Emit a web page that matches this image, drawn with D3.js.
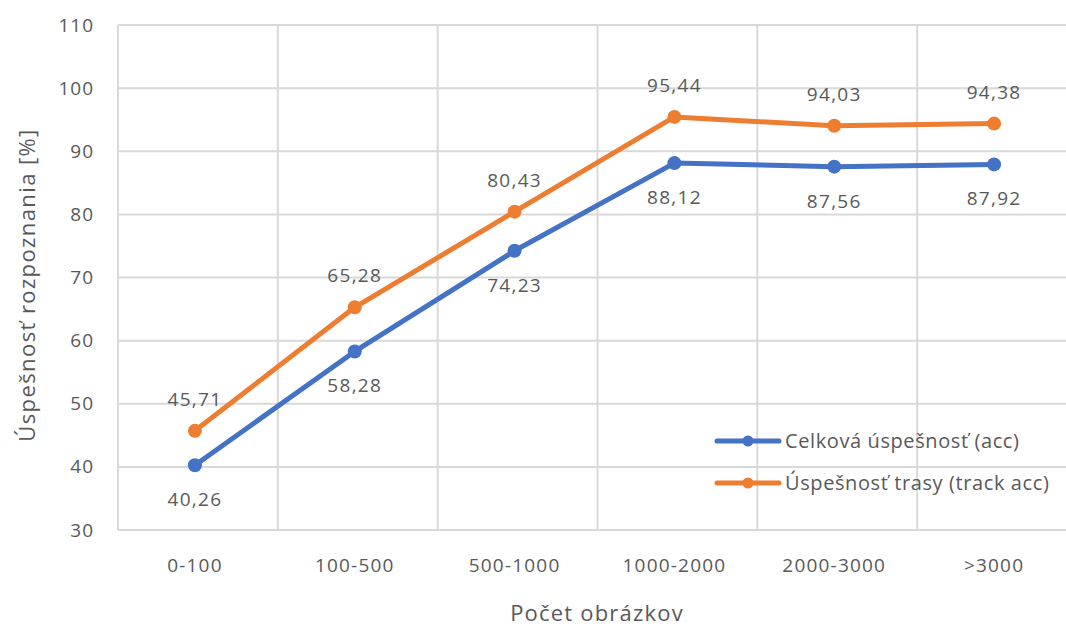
<!DOCTYPE html>
<html>
<head>
<meta charset="utf-8">
<script src="https://cdn.jsdelivr.net/npm/d3@7"></script>
<style>
  html, body { margin: 0; padding: 0; background: #fff; }
  svg { display: block; }
  text { font-family: "Open Sans", "Noto Sans", sans-serif; fill: #595959; }
</style>
</head>
<body>
<svg id="chart" width="1066" height="630"></svg>
<script>
// Categories (number of images) and recognition success rates in %
const categories = ["0-100", "100-500", "500-1000", "1000-2000", "2000-3000", ">3000"];
const accValues = [40.26, 58.28, 74.23, 88.12, 87.56, 87.92];
const trackAccValues = [45.71, 65.28, 80.43, 95.44, 94.03, 94.38];
const yTicks = [30, 40, 50, 60, 70, 80, 90, 100, 110];
const seriesNames = ["Celková úspešnosť (acc)", "Úspešnosť trasy (track acc)"];

const svg = d3.select("#chart");

// Plot area continues past the right edge of the canvas
const plotLeft = 118, plotRight = 1077, plotTop = 25, plotBottom = 530;

const x = d3.scaleBand().domain(categories).range([plotLeft, plotRight]).padding(0);
const y = d3.scaleLinear().domain([30, 110]).range([plotBottom, plotTop]);

const grid = svg.append("g");
// horizontal gridlines
grid.selectAll("line.h").data(yTicks).enter().append("line")
  .attr("class", "h")
  .attr("x1", plotLeft).attr("x2", plotRight)
  .attr("y1", d => y(d)).attr("y2", d => y(d))
  .attr("stroke", "#d9d9d9").attr("stroke-width", 2);
// vertical gridlines at category boundaries
const bounds = categories.map(c => x(c)).concat([x(categories[categories.length - 1]) + x.bandwidth()]);
grid.selectAll("line.v").data(bounds).enter().append("line")
  .attr("class", "v")
  .attr("x1", d => d).attr("x2", d => d)
  .attr("y1", plotTop).attr("y2", plotBottom)
  .attr("stroke", "#d9d9d9").attr("stroke-width", 2);

// y axis tick labels
const yAxis = d3.axisLeft(y).tickValues(yTicks).tickSize(0).tickPadding(0);
const yg = svg.append("g").attr("transform", `translate(${plotLeft - 24},0)`).call(yAxis);
yg.select(".domain").remove();
yg.selectAll("text").attr("font-size", 19).attr("letter-spacing", 1).attr("fill", "#595959")
  .style("font-family", '"Open Sans", sans-serif');

// x axis tick labels
const xAxis = d3.axisBottom(x).tickSize(0).tickPadding(0);
const xg = svg.append("g").attr("transform", `translate(-3,${plotBottom + 28})`).call(xAxis);
xg.select(".domain").remove();
xg.selectAll("text").attr("font-size", 19).attr("letter-spacing", 1.2).attr("fill", "#595959")
  .style("font-family", '"Open Sans", sans-serif');

// axis titles
svg.append("text")
  .attr("x", 597).attr("y", 621)
  .attr("text-anchor", "middle")
  .attr("font-size", 22)
  .attr("letter-spacing", 1.2)
  .text("Počet obrázkov");
svg.append("text")
  .attr("transform", "translate(35,285) rotate(-90)")
  .attr("text-anchor", "middle")
  .attr("font-size", 22)
  .attr("letter-spacing", 1.4)
  .text("Úspešnosť rozpoznania [%]");

const cx = c => x(c) + x.bandwidth() / 2 - 3;
const fmt = v => v.toFixed(2).replace(".", ",");

const series = [
  { name: seriesNames[0], values: accValues, color: "#4472c4", labelDy: 41 },
  { name: seriesNames[1], values: trackAccValues, color: "#ed7d31", labelDy: -25 }
];

const line = d3.line().x((d, i) => cx(categories[i])).y(d => y(d));

series.forEach(s => {
  const g = svg.append("g");
  g.append("path")
    .attr("d", line(s.values))
    .attr("fill", "none")
    .attr("stroke", s.color)
    .attr("stroke-width", 5)
    .attr("stroke-linejoin", "round")
    .attr("stroke-linecap", "round");
  g.selectAll("circle").data(s.values).enter().append("circle")
    .attr("cx", (d, i) => cx(categories[i]))
    .attr("cy", d => y(d))
    .attr("r", 7)
    .attr("fill", s.color);
  g.selectAll("text").data(s.values).enter().append("text")
    .attr("x", (d, i) => cx(categories[i]))
    .attr("y", d => y(d) + s.labelDy)
    .attr("text-anchor", "middle")
    .attr("font-size", 19)
    .attr("letter-spacing", 1.3)
    .attr("fill", "#404040")
    .text(d => fmt(d));
});

// legend
const legend = svg.append("g").attr("transform", "translate(717,441)");
series.forEach((s, i) => {
  const row = legend.append("g").attr("transform", `translate(0,${i * 42})`);
  row.append("line").attr("x1", 0).attr("x2", 62).attr("y1", 0).attr("y2", 0)
    .attr("stroke", s.color).attr("stroke-width", 5).attr("stroke-linecap", "round");
  row.append("circle").attr("cx", 31).attr("cy", 0).attr("r", 5.5).attr("fill", s.color);
  row.append("text").attr("x", 68).attr("y", 7)
    .attr("font-size", 20).attr("letter-spacing", 0.6).attr("fill", "#595959")
    .text(s.name);
});
</script>
</body>
</html>
